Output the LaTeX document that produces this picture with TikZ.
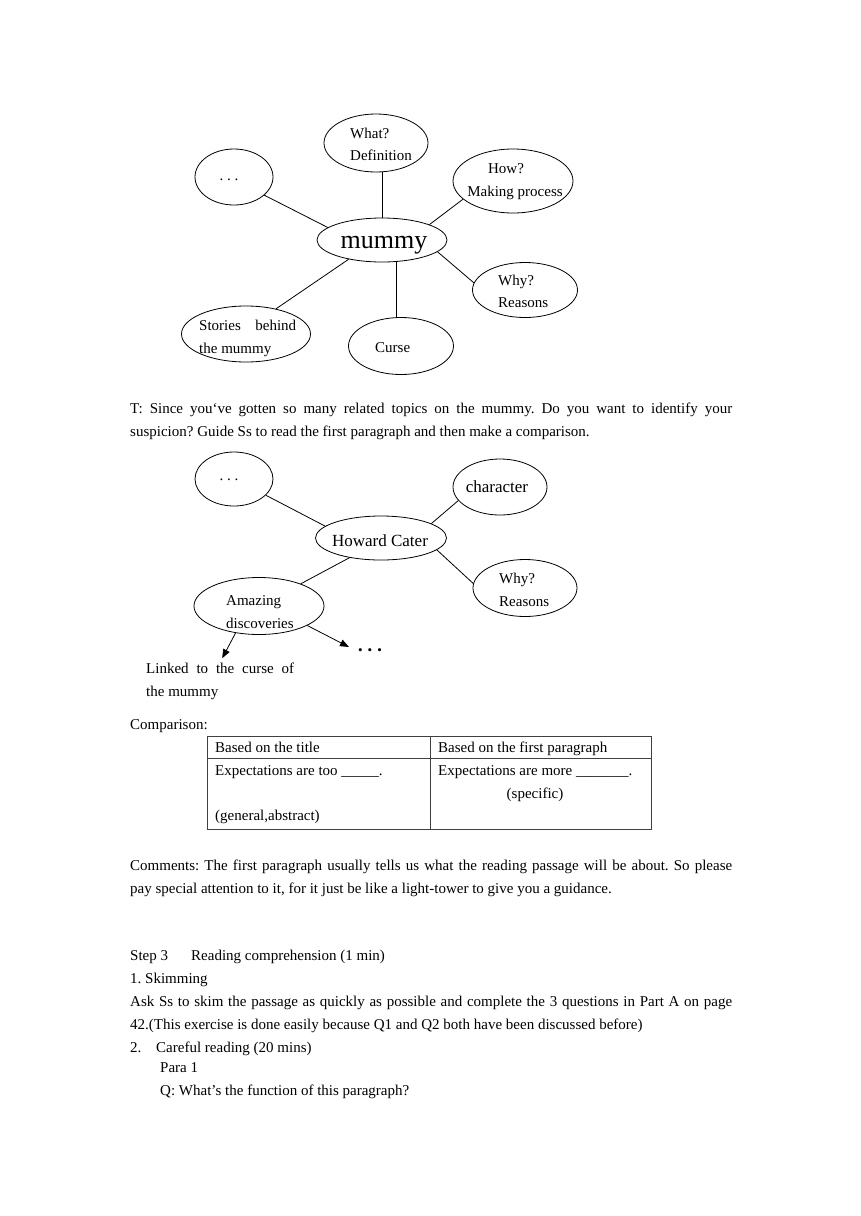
\documentclass[tikz,border=0pt]{standalone}
\usepackage{fontspec}
\setmainfont{Liberation Serif}
\usetikzlibrary{shapes.geometric,arrows.meta,calc}
\frenchspacing
\begin{document}
\begin{tikzpicture}[x=1pt,y=-1pt,
  ell/.style={ellipse,draw,line width=0.8pt,inner sep=0pt},
  txt/.style={inner sep=0pt,anchor=base west,font=\fontsize{15}{23}\selectfont},
  ctxt/.style={inner sep=0pt,anchor=base,font=\fontsize{15}{23}\selectfont},
  conn/.style={line width=0.8pt},
  arr/.style={line width=0.8pt,-{Triangle[length=9pt,width=7pt]}},
  tbl/.style={line width=0.8pt,draw=black!75}
]
\useasboundingbox[fill=white] (0,0) rectangle (860,1216);

% ---------- diagram 1 ----------
\node[ell,minimum width=78pt,minimum height=56pt] (dotsA) at (234,177) {};
\node[ell,minimum width=104pt,minimum height=58pt] (what) at (376,143) {};
\node[ell,minimum width=120pt,minimum height=64pt] (how) at (513,181) {};
\node[ell,minimum width=130pt,minimum height=44pt] (mummy) at (382,240) {};
\node[ell,minimum width=105pt,minimum height=55pt] (whyA) at (525,290) {};
\node[ell,minimum width=129pt,minimum height=56pt] (stories) at (246,334) {};
\node[ell,minimum width=105pt,minimum height=57pt] (curse) at (401,346) {};

\node[ctxt] (tdotsA) at (229,180) {. . .};
\node[txt] (twhat) at (350,138) {What?};
\node[txt] (tdef) at (350,160) {Definition};
\node[ctxt] (thow) at (506,173) {How?};
\node[ctxt] (tmake) at (515,196) {Making process};
\node[ctxt,font=\fontsize{26}{30}\selectfont] (tmummy) at (384,248) {mummy};
\node[txt] (twhyA) at (498,285) {Why?};
\node[txt] (treasA) at (498,307) {Reasons};
\node[txt] (tstor) at (199,330) {\makebox[97pt][s]{Stories behind}};
\node[txt] (tstor2) at (199,353) {the mummy};
\node[txt] (tcurse) at (375,352) {Curse};

\draw[conn] (dotsA.-31) -- (mummy.167.6);
\draw[conn] (what.south -| mummy.north) -- (mummy.north);
\draw[conn] (how.200.6) -- (mummy.18.8);
\draw[conn] (mummy.-12.3) -- (whyA.172);
\draw[conn] (mummy.210.5) -- (stories.40.3);
\draw[conn] ([xshift=14pt]mummy.south) -- ([xshift=14pt]mummy.south |- curse.north);

% ---------- text ----------
\node[txt] (l1) at (130,413) {\makebox[602pt][s]{T: Since you‘ve gotten so many related topics on the mummy. Do you want to identify your}};
\node[txt] (l2) at (130,436) {suspicion? Guide Ss to read the first paragraph and then make a comparison.};

% ---------- diagram 2 ----------
\node[ell,minimum width=78pt,minimum height=54pt] (dotsB) at (234,479) {};
\node[ell,minimum width=131pt,minimum height=44pt] (howard) at (381,538) {};
\node[ell,minimum width=94pt,minimum height=56pt] (charac) at (500,487) {};
\node[ell,minimum width=104pt,minimum height=57pt] (whyB) at (525,588) {};
\node[ell,minimum width=130pt,minimum height=57pt] (amazing) at (259,606) {};

\node[ctxt] (tdotsB) at (229,480) {. . .};
\node[ctxt,font=\fontsize{17}{20}\selectfont] (thow2) at (380,546) {Howard Cater};
\node[ctxt,font=\fontsize{17}{20}\selectfont] (tchar) at (497,492) {character};
\node[txt] (twhyB) at (499,583) {Why?};
\node[txt] (treasB) at (499,606) {Reasons};
\node[txt] (tamaz) at (226,605) {Amazing};
\node[txt] (tdisc) at (226,628) {discoveries};
\node[txt] (linked) at (146,673) {\makebox[148pt][s]{Linked to the curse of}};
\node[txt] (linked2) at (146,696) {the mummy};
\node[inner sep=0pt,font=\fontsize{13}{13}\selectfont] (moredots) at (370,652) {•\hspace{5pt}•\hspace{5pt}•};

\draw[conn] (dotsB.-27.3) -- (howard.168.9);
\draw[conn] (charac.198.4) -- (howard.16.4);
\draw[conn] (howard.-12.5) -- (whyB.175.6);
\draw[conn] (howard.212.3) -- (amazing.28.8);
\draw[arr] (amazing.229) -- ([xshift=2pt,yshift=4pt]linked.north);
\draw[arr] (amazing.-22) -- ([xshift=-9pt,yshift=5pt]moredots.west);

% ---------- comparison ----------
\node[txt] (comp) at (130,729) {Comparison:};
\draw[tbl] (207,736) rectangle (651,829);
\draw[tbl] (207,758) -- (651,758);
\draw[tbl] (430,736) -- (430,829);
\node[txt] (c11) at (215,752) {Based on the title};
\node[txt] (c12) at (438,752) {Based on the first paragraph};
\node[txt] (c21) at (215,775) {Expectations are too \_\_\_\_\_.};
\node[txt] (c22) at (438,775) {Expectations are more \_\_\_\_\_\_\_.};
\node[ctxt] (c23) at (535,798) {(specific)};
\node[txt] (c24) at (215,820) {(general,abstract)};

\node[txt] (m1) at (130,870) {\makebox[602pt][s]{Comments: The first paragraph usually tells us what the reading passage will be about. So please}};
\node[txt] (m2) at (130,893) {pay special attention to it, for it just be like a light-tower to give you a guidance.};

% ---------- step 3 ----------
\node[txt] (s1) at (130,960) {Step 3};
\node[txt] (s1b) at (191,960) {Reading comprehension (1 min)};
\node[txt] (s2) at (130,983) {1. Skimming};
\node[txt] (s3) at (130,1006) {\makebox[602pt][s]{Ask Ss to skim the passage as quickly as possible and complete the 3 questions in Part A on page}};
\node[txt] (s4) at (130,1029) {42.(This exercise is done easily because Q1 and Q2 both have been discussed before)};
\node[txt] (s5) at (130,1052) {2.};
\node[txt] (s5b) at (156,1052) {Careful reading (20 mins)};
\node[txt] (s6) at (160,1072) {Para 1};
\node[txt] (s7) at (160,1095) {Q: What’s the function of this paragraph?};
\end{tikzpicture}
\end{document}
